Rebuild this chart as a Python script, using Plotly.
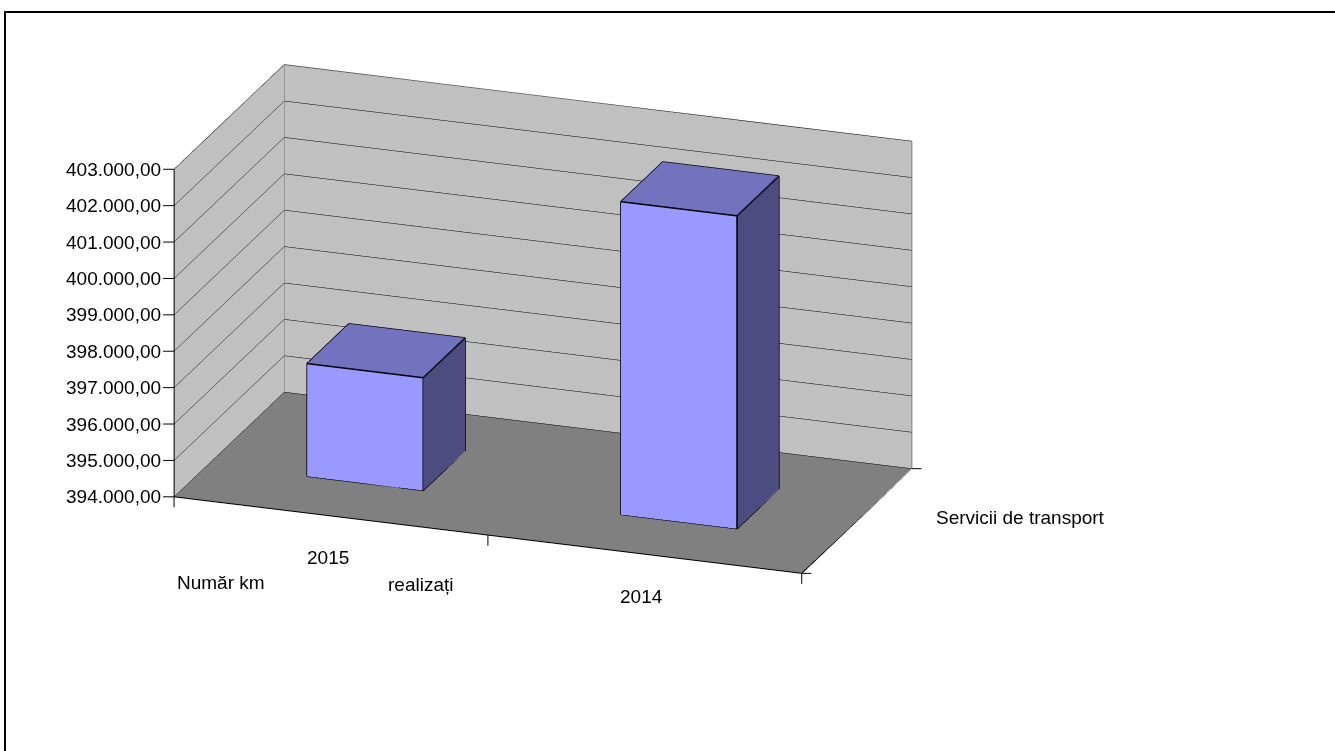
import plotly.graph_objects as go

# ---- data -------------------------------------------------------------
categories = ["2015", "2014"]
series_name = "Servicii de transport"
km_values = [397100, 402600]
z_ticks = [394000, 395000, 396000, 397000, 398000, 399000,
           400000, 401000, 402000, 403000]
z_tick_labels = ["394.000,00", "395.000,00", "396.000,00", "397.000,00",
                 "398.000,00", "399.000,00", "400.000,00", "401.000,00",
                 "402.000,00", "403.000,00"]
title_words = ["Număr km", "realizați"]

Z_MIN, Z_MAX = z_ticks[0], z_ticks[-1]
N_CAT = len(categories)
BAR_HALF = 0.185          # half bar width, in category units
DEPTH_LO, DEPTH_HI = 0.31, 0.69

FRONT = "#9999FF"
TOP = "#7272BF"
SIDE = "#4C4C80"
WALL = "#C0C0C0"
FLOOR = "#808080"
EDGE_GREY = "#808080"
FONT = "Liberation Sans, Arial, sans-serif"
FS = 19


def column(cx, value):
    x0, x1 = cx - BAR_HALF, cx + BAR_HALF
    y0, y1 = DEPTH_LO, DEPTH_HI
    z0, z1 = Z_MIN, value
    xs = [x0, x1, x1, x0, x0, x1, x1, x0]
    ys = [y0, y0, y1, y1, y0, y0, y1, y1]
    zs = [z0, z0, z0, z0, z1, z1, z1, z1]
    tris = [
        ((0, 1, 5), FRONT), ((0, 5, 4), FRONT),
        ((3, 2, 6), SIDE), ((3, 6, 7), SIDE),
        ((0, 3, 7), SIDE), ((0, 7, 4), SIDE),
        ((1, 2, 6), SIDE), ((1, 6, 5), SIDE),
        ((0, 1, 2), SIDE), ((0, 2, 3), SIDE),
        ((4, 5, 6), TOP), ((4, 6, 7), TOP),
    ]
    mesh = go.Mesh3d(
        x=xs, y=ys, z=zs,
        i=[t[0][0] for t in tris], j=[t[0][1] for t in tris],
        k=[t[0][2] for t in tris],
        facecolor=[t[1] for t in tris],
        flatshading=True,
        lighting=dict(ambient=1, diffuse=0, specular=0, roughness=1, fresnel=0),
        hoverinfo="skip", showscale=False,
    )
    # outline of the faces turned to the viewer: front, top, right
    path = [0, 1, 5, 4, 0, None, 4, 7, 6, 5, None, 1, 2, 6]
    ex = [xs[p] if p is not None else None for p in path]
    ey = [ys[p] if p is not None else None for p in path]
    ez = [zs[p] if p is not None else None for p in path]
    edges = go.Scatter3d(x=ex, y=ey, z=ez, mode="lines",
                         line=dict(color="black", width=3),
                         hoverinfo="skip", showlegend=False)
    return [mesh, edges]


def segment(p, q, color, width):
    return go.Scatter3d(x=[p[0], q[0]], y=[p[1], q[1]], z=[p[2], q[2]],
                        mode="lines", line=dict(color=color, width=width),
                        hoverinfo="skip", showlegend=False)


traces = []
for idx, val in enumerate(km_values):
    traces += column(idx + 0.5, val)

# wall and floor borders
X1 = N_CAT
traces += [
    segment((0, 0, Z_MAX), (0, 1, Z_MAX), EDGE_GREY, 2),
    segment((0, 1, Z_MIN), (0, 1, Z_MAX), EDGE_GREY, 2),
    segment((0, 1, Z_MAX), (X1, 1, Z_MAX), EDGE_GREY, 2),
    segment((X1, 1, Z_MIN), (X1, 1, Z_MAX), EDGE_GREY, 2),
    segment((0, 0, Z_MIN), (0, 0, Z_MAX), "black", 2),
    segment((0, 0, Z_MIN), (X1, 0, Z_MIN), "black", 2),
    segment((X1, 0, Z_MIN), (X1, 1, Z_MIN), "black", 2),
]

fig = go.Figure(traces)

font = dict(family=FONT, size=FS, color="black")
tick_style = dict(showarrow=True, arrowhead=0, arrowwidth=1,
                  arrowcolor="black", font=font)

scene_notes = []
# value axis: ticks and labels on the front-left edge
for v, lab in zip(z_ticks, z_tick_labels):
    scene_notes.append(dict(x=0, y=0, z=v, text=lab, ax=-11, ay=0,
                            xanchor="right", yanchor="middle", **tick_style))
# category axis ticks on the front edge
for b in range(N_CAT + 1):
    scene_notes.append(dict(x=b, y=0, z=Z_MIN, text="", ax=0, ay=12,
                            **tick_style))
# category labels
for idx, cat in enumerate(categories):
    scene_notes.append(dict(x=idx + 0.5, y=0, z=Z_MIN, text=cat,
                            showarrow=False, xshift=-3, yshift=-42,
                            font=font))
# series axis ticks and label on the right floor edge
for d in (0, 1):
    scene_notes.append(dict(x=X1, y=d, z=Z_MIN, text="", ax=11, ay=0,
                            **tick_style))
scene_notes.append(dict(x=X1, y=0.5, z=Z_MIN, text=series_name,
                        showarrow=False, xanchor="left", xshift=77, yshift=4,
                        font=font))

hidden_axis = dict(showspikes=False, zeroline=False, showline=False,
                   showticklabels=False, ticks="", title=dict(text=""),
                   showbackground=True)

fig.update_layout(
    width=1335, height=751,
    margin=dict(l=0, r=0, t=0, b=0),
    paper_bgcolor="white",
    showlegend=False,
    font=font,
    scene=dict(
        domain=dict(x=[0, 0.8135], y=[0.1505, 1]),
        xaxis=dict(range=[0, X1], backgroundcolor=WALL, showgrid=False,
                   **hidden_axis),
        yaxis=dict(range=[0, 1], backgroundcolor=WALL, showgrid=False,
                   **hidden_axis),
        zaxis=dict(range=[Z_MIN, Z_MAX], backgroundcolor=FLOOR,
                   showgrid=True, gridcolor="black", gridwidth=1,
                   tickvals=z_ticks, **hidden_axis),
        aspectmode="manual",
        aspectratio=dict(x=2.09, y=1.024, z=1.092),
        camera=dict(eye=dict(x=0.631, y=-1.761, z=0.677),
                    up=dict(x=0, y=0, z=1),
                    center=dict(x=0, y=0, z=0),
                    projection=dict(type="orthographic")),
        annotations=scene_notes,
    ),
    annotations=[
        dict(text=title_words[0], xref="paper", yref="paper",
             x=221 / 1335, y=1 - 582 / 751, xanchor="center",
             yanchor="middle", showarrow=False, font=font),
        dict(text=title_words[1], xref="paper", yref="paper",
             x=420 / 1335, y=1 - 584 / 751, xanchor="center",
             yanchor="middle", showarrow=False, font=font),
    ],
    shapes=[dict(type="rect", xref="paper", yref="paper",
                 x0=5 / 1335, x1=1.02, y0=-0.02, y1=1 - 12 / 751,
                 line=dict(color="black", width=2))],
)

fig.write_html("out.html")
